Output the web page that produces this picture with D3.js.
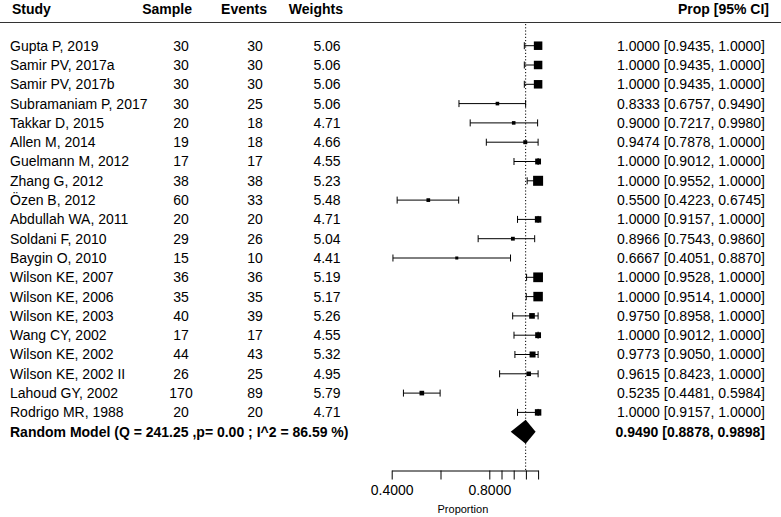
<!DOCTYPE html>
<html><head><meta charset="utf-8">
<script src="https://cdn.jsdelivr.net/npm/d3@7"></script>
<style>
body{margin:0;background:#fff;}
text{font-family:"Liberation Sans",Arial,sans-serif;fill:#000;}
</style></head>
<body>
<svg id="chart" width="781" height="517"></svg>
<script>
const studies = ["Gupta P, 2019","Samir PV, 2017a","Samir PV, 2017b","Subramaniam P, 2017","Takkar D, 2015","Allen M, 2014","Guelmann M, 2012","Zhang G, 2012","Özen B, 2012","Abdullah WA, 2011","Soldani F, 2010","Baygin O, 2010","Wilson KE, 2007","Wilson KE, 2006","Wilson KE, 2003","Wang CY, 2002","Wilson KE, 2002","Wilson KE, 2002 II","Lahoud GY, 2002","Rodrigo MR, 1988"];
const sample = [30,30,30,30,20,19,17,38,60,20,29,15,36,35,40,17,44,26,170,20];
const events = [30,30,30,25,18,18,17,38,33,20,26,10,36,35,39,17,43,25,89,20];
const weights = [5.06,5.06,5.06,5.06,4.71,4.66,4.55,5.23,5.48,4.71,5.04,4.41,5.19,5.17,5.26,4.55,5.32,4.95,5.79,4.71];
const prop = [1.0000,1.0000,1.0000,0.8333,0.9000,0.9474,1.0000,1.0000,0.5500,1.0000,0.8966,0.6667,1.0000,1.0000,0.9750,1.0000,0.9773,0.9615,0.5235,1.0000];
const lower = [0.9435,0.9435,0.9435,0.6757,0.7217,0.7878,0.9012,0.9552,0.4223,0.9157,0.7543,0.4051,0.9528,0.9514,0.8958,0.9012,0.9050,0.8423,0.4481,0.9157];
const upper = [1.0000,1.0000,1.0000,0.9490,0.9980,1.0000,1.0000,1.0000,0.6745,1.0000,0.9860,0.8870,1.0000,1.0000,1.0000,1.0000,1.0000,1.0000,0.5984,1.0000];
const pooled = {label:"Random Model (Q = 241.25 ,p= 0.00 ; I^2 = 86.59 %)", est:0.9490, lb:0.8878, ub:0.9898};
const headers = ["Study","Sample","Events","Weights","Prop [95% CI]"];
const tickValues = [0.4,0.6,0.8,0.85,0.9,0.95,1.0];
const tickLabels = ["0.4000","","0.8000","","","",""];
const axisTitle = "Proportion";

const svg = d3.select("#chart");
const x = d3.scaleLinear().domain([0.4,1.0]).range([391.7,538.1]);
const y = d3.scaleLinear().domain([0,20]).range([45.7,431.7]);
const prec = d3.scaleLinear().domain([2,22]).range([3,10]).clamp(true);
const f4 = d3.format(".4f");

// header
const hY = 9;
svg.append("text").attr("x",12).attr("y",hY).attr("dy","0.35em").attr("font-size",14).attr("font-weight","bold").text(headers[0]);
svg.append("text").attr("x",192).attr("y",hY).attr("dy","0.35em").attr("text-anchor","end").attr("font-size",14).attr("font-weight","bold").text(headers[1]);
svg.append("text").attr("x",267).attr("y",hY).attr("dy","0.35em").attr("text-anchor","end").attr("font-size",14).attr("font-weight","bold").text(headers[2]);
svg.append("text").attr("x",343).attr("y",hY).attr("dy","0.35em").attr("text-anchor","end").attr("font-size",14).attr("font-weight","bold").text(headers[3]);
svg.append("text").attr("x",769).attr("y",hY).attr("dy","0.35em").attr("text-anchor","end").attr("font-size",14).attr("font-weight","bold").text(headers[4]);
svg.append("line").attr("x1",0).attr("x2",781).attr("y1",22.5).attr("y2",22.5).attr("stroke","#333").attr("stroke-width",1.2);

// reference dotted line
svg.append("line").attr("x1",x(pooled.est)).attr("x2",x(pooled.est)).attr("y1",24).attr("y2",470)
  .attr("stroke","#000").attr("stroke-width",1).attr("stroke-dasharray","1.2,2");

const rows = svg.append("g").selectAll("g").data(studies.map((s,i)=>({s,i}))).join("g");
rows.append("text").attr("x",10).attr("y",d=>y(d.i)).attr("dy","0.35em").attr("font-size",14).text(d=>d.s);
rows.append("text").attr("x",181).attr("y",d=>y(d.i)).attr("dy","0.35em").attr("text-anchor","middle").attr("font-size",14).text(d=>sample[d.i]);
rows.append("text").attr("x",255).attr("y",d=>y(d.i)).attr("dy","0.35em").attr("text-anchor","middle").attr("font-size",14).text(d=>events[d.i]);
rows.append("text").attr("x",327).attr("y",d=>y(d.i)).attr("dy","0.35em").attr("text-anchor","middle").attr("font-size",14).text(d=>weights[d.i].toFixed(2));
rows.append("text").attr("x",765).attr("y",d=>y(d.i)).attr("dy","0.35em").attr("text-anchor","end").attr("font-size",14)
  .text(d=>`${f4(prop[d.i])} [${f4(lower[d.i])}, ${f4(upper[d.i])}]`);

// CI lines
rows.append("line").attr("x1",d=>x(lower[d.i])).attr("x2",d=>x(upper[d.i])).attr("y1",d=>y(d.i)).attr("y2",d=>y(d.i)).attr("stroke","#000").attr("stroke-width",1);
rows.append("line").attr("x1",d=>x(lower[d.i])).attr("x2",d=>x(lower[d.i])).attr("y1",d=>y(d.i)-3.5).attr("y2",d=>y(d.i)+3.5).attr("stroke","#000").attr("stroke-width",1);
rows.append("line").attr("x1",d=>x(upper[d.i])).attr("x2",d=>x(upper[d.i])).attr("y1",d=>y(d.i)-3.5).attr("y2",d=>y(d.i)+3.5).attr("stroke","#000").attr("stroke-width",1);
rows.append("rect").each(function(d){
  const s = prec(1/(upper[d.i]-lower[d.i]));
  d3.select(this).attr("x",x(prop[d.i])-s/2).attr("y",y(d.i)-s/2).attr("width",s).attr("height",s).attr("fill","#000");
});

// pooled
const pY = y(20);
svg.append("text").attr("x",10).attr("y",pY).attr("dy","0.35em").attr("font-size",14).attr("font-weight","bold").text(pooled.label);
svg.append("text").attr("x",765).attr("y",pY).attr("dy","0.35em").attr("text-anchor","end").attr("font-size",14).attr("font-weight","bold")
  .text(`${f4(pooled.est)} [${f4(pooled.lb)}, ${f4(pooled.ub)}]`);
svg.append("path").attr("d",`M${x(pooled.lb)},${pY}L${x(pooled.est)},${pY-12}L${x(pooled.ub)},${pY}L${x(pooled.est)},${pY+12}Z`).attr("fill","#000");

// axis
const axis = d3.axisBottom(x).tickValues(tickValues).tickFormat((d,i)=>tickLabels[i]).tickSize(9).tickSizeOuter(0).tickPadding(6);
const ag = svg.append("g").attr("transform","translate(0,470.5)").call(axis);
ag.selectAll("text").attr("font-size",14).attr("fill","#000").style("font-family","Liberation Sans,Arial,sans-serif");
ag.selectAll("line,path").attr("stroke","#000");
svg.append("text").attr("x",(x(0.4)+x(1.0))/2-2).attr("y",509).attr("dy","0.35em").attr("text-anchor","middle").attr("font-size",11).text(axisTitle);
</script>
</body></html>
